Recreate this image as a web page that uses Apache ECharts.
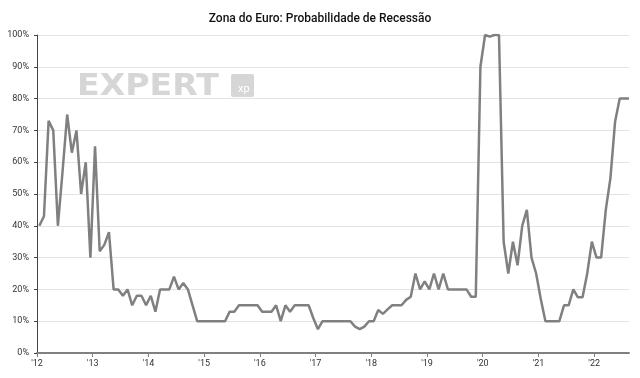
<!DOCTYPE html>
<html>
<head>
<meta charset="utf-8">
<script src="https://cdn.jsdelivr.net/npm/echarts@6/dist/echarts.min.js"></script>
<style>
  html, body { margin: 0; padding: 0; background: #fff; }
  #chart { width: 640px; height: 378px; }
</style>
</head>
<body>
<div id="chart"></div>
<script>
var startYear = 2012;
// monthly probability (%), Jan 2012 .. Aug 2022
var y2012 = [40, 43, 73, 70, 40, 57, 75, 63, 70, 50, 60, 30];
var y2013 = [65, 32, 34, 38, 20, 20, 18, 20, 15, 18, 18, 15];
var y2014 = [18, 13, 20, 20, 20, 24, 20, 22, 20, 15, 10, 10];
var y2015 = [10, 10, 10, 10, 10, 13, 13, 15, 15, 15, 15, 15];
var y2016 = [13, 13, 13, 15, 10, 15, 13, 15, 15, 15, 15, 11];
var y2017 = [7.5, 10, 10, 10, 10, 10, 10, 10, 8.3, 7.5, 8.3, 10];
var y2018 = [10, 13.5, 12.3, 13.7, 15, 15, 15, 16.7, 17.7, 25, 20, 22.5];
var y2019 = [20, 25, 20, 25, 20, 20, 20, 20, 20, 17.7, 17.7, 90];
var y2020 = [100, 99.5, 100, 100, 35, 25, 35, 27.6, 40, 45, 30, 25];
var y2021 = [17, 10, 10, 10, 10, 15, 15, 20, 17.5, 17.5, 25, 35];
var y2022 = [30, 30, 45, 55, 72.7, 80, 80, 80];
var yearTicks = [2012, 2013, 2014, 2015, 2016, 2017, 2018, 2019, 2020, 2021, 2022];

var values = [].concat(y2012, y2013, y2014, y2015, y2016, y2017, y2018, y2019, y2020, y2021, y2022);
// each value sits mid-month
var seriesData = values.map(function (v, i) {
  return [startYear + (i + 0.5) / 12, v];
});
var xEnd = seriesData[seriesData.length - 1][0];

var chart = echarts.init(document.getElementById('chart'));
var option = {
  backgroundColor: '#fff',
  animation: false,
  title: {
    text: 'Zona do Euro: Probabilidade de Recessão',
    left: 'center',
    top: 8,
    textStyle: {
      fontFamily: 'Roboto',
      fontSize: 12,
      fontWeight: 500,
      color: '#111'
    }
  },
  grid: {
    left: 37,
    right: 11,
    top: 35,
    bottom: 25
  },
  xAxis: {
    type: 'value',
    min: startYear,
    max: xEnd,
    splitLine: { show: false },
    axisLine: { lineStyle: { color: '#808080', width: 2 } },
    axisTick: {
      show: true,
      length: 4,
      customValues: yearTicks,
      lineStyle: { color: '#808080' }
    },
    axisLabel: {
      customValues: yearTicks,
      color: '#333',
      fontFamily: 'Roboto',
      fontSize: 9,
      margin: 6,
      formatter: function (v) {
        return "'" + String(v).slice(2);
      }
    }
  },
  yAxis: {
    type: 'value',
    min: 0,
    max: 100,
    interval: 10,
    axisLine: { show: true, lineStyle: { color: '#444', width: 1 } },
    axisTick: { show: true, length: 3, lineStyle: { color: '#444' } },
    splitLine: { lineStyle: { color: '#e3e3e3', width: 1 } },
    axisLabel: {
      color: '#333',
      fontFamily: 'Roboto',
      fontSize: 9,
      margin: 8,
      formatter: '{value}%'
    }
  },
  graphic: [
    {
      type: 'text',
      x: 77,
      y: 71,
      scaleX: 1.07,
      z: 1,
      style: {
        text: 'EXPERT',
        font: 'bold 31px "DejaVu Sans"',
        fill: '#d6d6d6'
      }
    },
    {
      type: 'rect',
      x: 231,
      y: 74,
      z: 1,
      shape: { width: 23, height: 23, r: 2 },
      style: { fill: '#d6d6d6' }
    },
    {
      type: 'text',
      x: 238,
      y: 84,
      z: 2,
      style: {
        text: 'xp',
        font: '11px Roboto',
        fill: '#fff'
      }
    }
  ],
  series: [{
    type: 'line',
    data: seriesData,
    symbol: 'none',
    lineStyle: { color: '#808080', width: 2.5 },
    z: 3
  }]
};
chart.setOption(option);
window.onresize = chart.resize;
</script>
</body>
</html>
